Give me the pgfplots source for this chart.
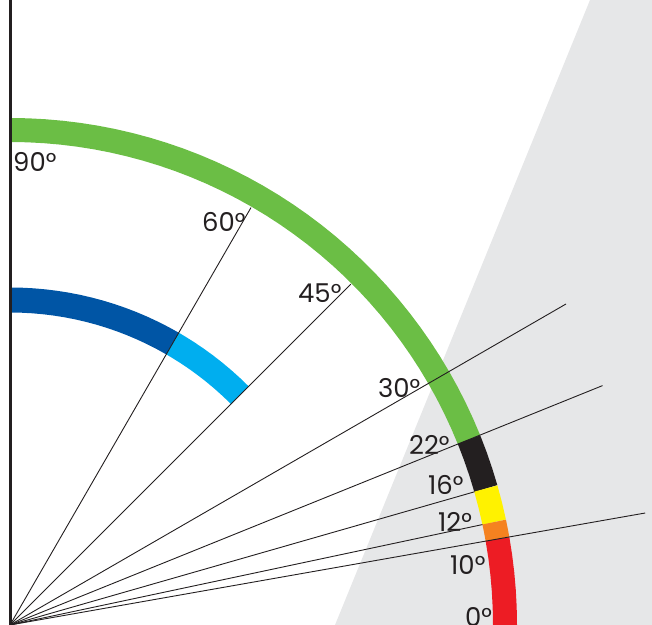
\documentclass[border=0pt]{standalone}
\usepackage{pgfplots}
\pgfplotsset{compat=1.18}
\usepackage{fontspec}
\setmainfont{Poppins}
\definecolor{cgreen}{HTML}{6BBE45}
\definecolor{cdblue}{HTML}{0055A5}
\definecolor{clblue}{HTML}{00AEEF}
\definecolor{cblack}{HTML}{231F20}
\definecolor{cyellow}{HTML}{FFF200}
\definecolor{corange}{HTML}{F58220}
\definecolor{cred}{HTML}{ED1C24}
\definecolor{cgray}{HTML}{E6E7E8}
\tikzset{lbl/.style={anchor=base west, inner sep=0pt, font=\fontsize{26}{26}\selectfont, text=cblack}}
\begin{document}
\begin{tikzpicture}
\begin{axis}[name=ax, x=1bp, y=1bp, scale only axis, hide axis,
  xmin=-10, xmax=642, ymin=0, ymax=625, clip=true]
% gray background region
\addplot[fill=cgray, draw=none] coordinates {(325,0) (580,625) (650,625) (650,0)} -- cycle;
% outer band
\addplot[data cs=polar, draw=cgreen, line width=24bp, line join=round] coordinates {
(22,495)(24,495)(26,495)(28,495)(30,495)(32,495)(34,495)(36,495)(38,495)(40,495)
(42,495)(44,495)(46,495)(48,495)(50,495)(52,495)(54,495)(56,495)(58,495)(60,495)
(62,495)(64,495)(66,495)(68,495)(70,495)(72,495)(74,495)(76,495)(78,495)(80,495)
(82,495)(84,495)(86,495)(88,495)(90,495)};
\addplot[data cs=polar, draw=cblack, line width=24bp, line join=round] coordinates {
(16,495)(18,495)(20,495)(22,495)};
\addplot[data cs=polar, draw=cyellow, line width=24bp, line join=round] coordinates {
(12,495)(14,495)(16,495)};
\addplot[data cs=polar, draw=corange, line width=24bp, line join=round] coordinates {
(10,495)(11,495)(12,495)};
\addplot[data cs=polar, draw=cred, line width=24bp, line join=round] coordinates {
(0,495)(2,495)(4,495)(6,495)(8,495)(10,495)};
% inner band
\addplot[data cs=polar, draw=cdblue, line width=25bp, line join=round] coordinates {
(60,325)(62,325)(64,325)(66,325)(68,325)(70,325)(72,325)(74,325)(76,325)(78,325)
(80,325)(82,325)(84,325)(86,325)(88,325)(90,325)};
\addplot[data cs=polar, draw=clblue, line width=25bp, line join=round] coordinates {
(45,325)(47,325)(49,325)(51,325)(53,325)(55,325)(57,325)(59,325)(60,325)};
% rays
\addplot[data cs=polar, draw=cblack, line width=0.9bp] coordinates {(60,0)(60,482)};
\addplot[data cs=polar, draw=cblack, line width=0.9bp] coordinates {(45,0)(45,482)};
\addplot[data cs=polar, draw=cblack, line width=0.9bp] coordinates {(30,0)(30,642)};
\addplot[data cs=polar, draw=cblack, line width=0.9bp] coordinates {(22,0)(22,639)};
\addplot[data cs=polar, draw=cblack, line width=0.9bp] coordinates {(16,0)(16,483)};
\addplot[data cs=polar, draw=cblack, line width=0.9bp] coordinates {(12,0)(12,483)};
\addplot[data cs=polar, draw=cblack, line width=0.9bp] coordinates {(10,0)(10,645)};
% vertical axis
\addplot[draw=cblack, line width=3bp] coordinates {(0,0)(0,625)};
% labels
\node[lbl] at (axis cs:3,453) {90°};
\node[lbl] at (axis cs:192,393) {60°};
\node[lbl] at (axis cs:288,322) {45°};
\node[lbl] at (axis cs:368,227) {30°};
\node[lbl] at (axis cs:399,170) {22°};
\node[lbl] at (axis cs:418,130) {16°};
\node[lbl] at (axis cs:428,93) {12°};
\node[lbl] at (axis cs:440,50) {10°};
\node[lbl] at (axis cs:455,-2) {0°};
\end{axis}
\pgfresetboundingbox
\useasboundingbox (ax.south west) rectangle (ax.north east);
\end{tikzpicture}
\end{document}
